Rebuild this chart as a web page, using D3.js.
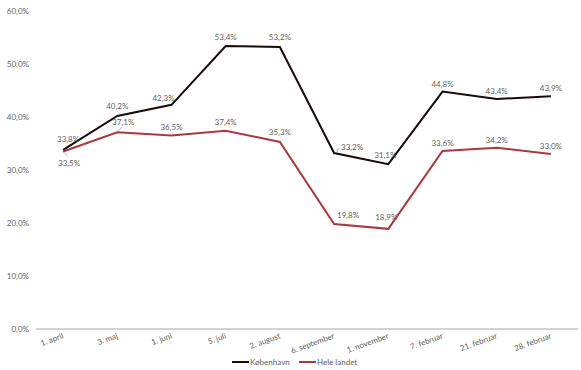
<!DOCTYPE html>
<html><head><meta charset="utf-8">
<script src="https://cdn.jsdelivr.net/npm/d3@7"></script>
<style>body{margin:0;background:#fff}svg{display:block}text{font-family:Lato,"Liberation Sans",sans-serif}</style>
</head><body><svg id="c" width="581" height="370"></svg>
<script>
const categories = ["1. april","3. maj","1. juni","5. juli","2. august","6. september","1. november","7. februar","21. februar","28. februar"];
const kobenhavn = [33.8,40.2,42.3,53.4,53.2,33.2,31.1,44.8,43.4,43.9];
const heleLandet = [33.5,37.1,36.5,37.4,35.3,19.8,18.9,33.6,34.2,33.0];
const yTicks = [0,10,20,30,40,50,60];
const seriesNames = ["København","Hele landet"];

const svg = d3.select("#c");
const x = d3.scaleBand().domain(categories).range([36,578]);
const y = d3.scaleLinear().domain([0,60]).range([329,11]);
const cx = d => x(d) + x.bandwidth()/2;
const fmt = v => v.toFixed(1).replace(".", ",") + "%";
const txt = "#5f5f5f";

// y tick labels
svg.append("g").selectAll("text").data(yTicks).join("text")
  .attr("x",29).attr("y",d=>y(d)+3).attr("text-anchor","end")
  .attr("font-size",8).attr("fill",txt).text(d=>fmt(d));

// axis line
svg.append("line").attr("x1",36).attr("x2",578).attr("y1",y(0)).attr("y2",y(0))
  .attr("stroke","#a6a6a6").attr("stroke-width",1);

// x labels
svg.append("g").selectAll("text").data(categories).join("text")
  .attr("transform",d=>`translate(${cx(d)+1},${y(0)+9}) rotate(-20)`)
  .attr("text-anchor","end").attr("font-size",8).attr("fill",txt).text(d=>d);

const line = d3.line().x((d,i)=>cx(categories[i])).y(d=>y(d));
const colors = ["#1a0b0b","#a73a3e"];
[kobenhavn, heleLandet].forEach((s,k)=>{
  svg.append("path").datum(s).attr("d",line).attr("fill","none")
    .attr("stroke",colors[k]).attr("stroke-width",2).attr("stroke-linejoin","miter");
});

// data labels
const kOff = [[5,-11],[0,-10],[-8,-7],[0,-9],[0,-10],[18,-6],[-3,-9],[0,-8],[0,-8],[0,-8]];
const hOff = [[6,12],[6,-10],[0,-9],[0,-9],[0,-10],[14,-9],[-2,-12],[0,-8],[0,-8],[0,-8]];
function labels(s, offs){
  svg.append("g").selectAll("text").data(s).join("text")
    .attr("x",(d,i)=>cx(categories[i])+offs[i][0])
    .attr("y",(d,i)=>y(d)+offs[i][1]+3)
    .attr("text-anchor","middle").attr("font-size",8).attr("fill",txt).text(d=>fmt(d));
}
labels(kobenhavn,kOff);
labels(heleLandet,hOff);
// leader lines
svg.append("path").attr("d",`M${cx(categories[0])},${y(heleLandet[0])} l5,5`).attr("stroke","#888").attr("fill","none").attr("stroke-width",0.6);
svg.append("path").attr("d",`M${cx(categories[1])+1},${y(heleLandet[1])-1} l3,-4`).attr("stroke","#888").attr("fill","none").attr("stroke-width",0.6);
svg.append("path").attr("d",`M${cx(categories[5])+3},${y(kobenhavn[5])-1} l0,-3 l3,0`).attr("stroke","#888").attr("fill","none").attr("stroke-width",0.6);

// legend
const lg = svg.append("g");
[[232,250],[299,317]].forEach((p,k)=>{
  lg.append("line").attr("x1",p[0]).attr("x2",p[1]-1).attr("y1",362).attr("y2",362)
    .attr("stroke",colors[k]).attr("stroke-width",2);
  lg.append("text").attr("x",p[1]).attr("y",365).attr("font-size",8).attr("fill",txt).text(seriesNames[k]);
});
</script></body></html>
